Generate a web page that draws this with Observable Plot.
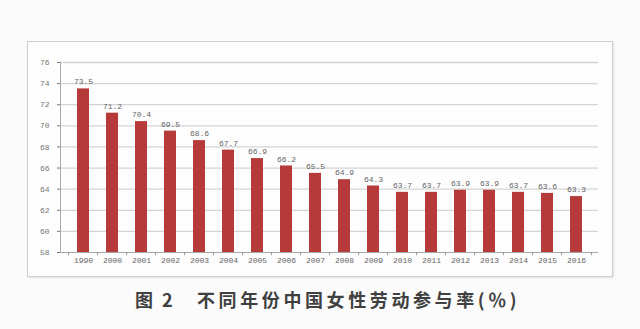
<!DOCTYPE html>
<html>
<head>
<meta charset="utf-8">
<script src="https://cdn.jsdelivr.net/npm/d3@7"></script>
<script src="https://cdn.jsdelivr.net/npm/@observablehq/plot@0.6"></script>
<style>
  html, body { margin: 0; padding: 0; background: #fbfbfb; }
  #wrap { position: relative; width: 640px; height: 329px; overflow: hidden; background: #fbfbfb; }
  #frame { position: absolute; left: 27px; top: 41px; width: 584px; height: 234px;
           border: 1.5px solid #cfcfcf; background: #fdfdfd; box-shadow: 1px 1px 2px #e2e2e2; }
  #chart { position: absolute; left: 0; top: 0; }
  #caption { position: absolute; left: 135px; top: 286px; font-family: "Noto Sans CJK SC", sans-serif;
             font-weight: bold; font-size: 18px; color: #404040; white-space: nowrap; line-height: 26px; letter-spacing: 3.6px; }
  #caption .fig { display: inline-block; width: 62px; letter-spacing: 0; }
  #caption .num { margin-left: 9px; }
</style>
</head>
<body>
<div id="wrap">
  <div id="frame"></div>
  <div id="chart"></div>
  <div id="caption"><span class="fig">图<span class="num">2</span></span>不同年份中国女性劳动参与率(％)</div>
</div>
<script>
const years = ["1990","2000","2001","2002","2003","2004","2005","2006","2007","2008","2009","2010","2011","2012","2013","2014","2015","2016"];
const rates = [73.5, 71.2, 70.4, 69.5, 68.6, 67.7, 66.9, 66.2, 65.5, 64.9, 64.3, 63.7, 63.7, 63.9, 63.9, 63.7, 63.6, 63.3];
const yTicks = [58, 60, 62, 64, 66, 68, 70, 72, 74, 76];

const data = years.map((y, i) => ({year: y, rate: rates[i]}));
const font = "Liberation Mono, DejaVu Sans Mono, monospace";

const marks = [
  Plot.ruleY(yTicks.slice(1), {stroke: "#d4d4d4", strokeWidth: 1.3}),
  Plot.axisY(yTicks, {tickSize: 3, tickPadding: 8, color: "#777", fontSize: 8, fontFamily: font, label: null}),
  Plot.barY(data, {x: "year", y1: () => 58, y2: "rate", fill: "#b73a3b"}),
  Plot.ruleY([58], {stroke: "#a8a8a8", strokeWidth: 1}),
  Plot.ruleX(years, {x: d => d, dx: -14.95, y1: () => 58, y2: () => 57.7, stroke: "#999"}),
  Plot.ruleX([years[years.length - 1]], {x: d => d, dx: 14.95, y1: () => 58, y2: () => 57.7, stroke: "#999"}),
  Plot.axisX({tickSize: 0, tickPadding: 5, color: "#666", fontSize: 8, fontFamily: font, label: null}),
  Plot.text(data, {x: "year", y: "rate", text: d => d.rate.toFixed(1), dy: -7, fill: "#666", fontSize: 8, fontFamily: font})
];
try { marks.push(Plot.frame({anchor: "left", stroke: "#aaa"})); } catch (e) {}

const chart = Plot.plot({
  width: 640,
  height: 280,
  marginLeft: 60,
  marginRight: 42,
  marginTop: 62,
  marginBottom: 28,
  style: {background: "transparent", fontFamily: font},
  x: {domain: years, paddingInner: 0.6, paddingOuter: 0.3, axis: null, label: null},
  y: {domain: [58, 76], axis: null, label: null},
  marks
});
document.getElementById("chart").appendChild(chart);
</script>
</body>
</html>
